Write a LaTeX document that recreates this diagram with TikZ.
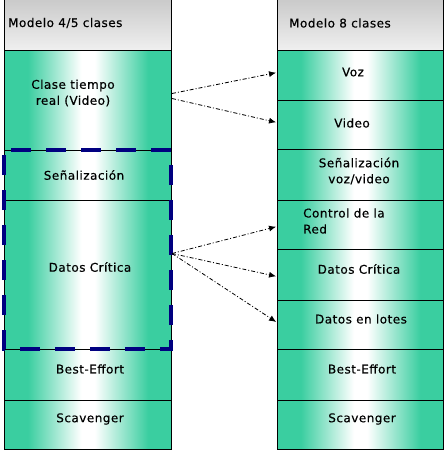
\documentclass[tikz,border=0pt]{standalone}
\usepackage{fontspec}
\setmainfont{DejaVu Sans}[LetterSpace=4, FakeBold=0.4]
\usetikzlibrary{arrows.meta}
\definecolor{verde}{RGB}{58,206,160}
\definecolor{marino}{RGB}{0,0,128}
\pgfdeclarehorizontalshading{franja}{100bp}{color(0bp)=(verde); color(25bp)=(verde);
  color(32bp)=(verde); color(48bp)=(white); color(52bp)=(white); color(68bp)=(verde);
  color(75bp)=(verde); color(100bp)=(verde)}

\begin{document}
\begin{tikzpicture}[x=1pt, y=-1pt,
  every node/.style = {inner sep=0pt, font=\fontsize{12}{16}\selectfont},
  fila/.style = {draw, line width=1pt, anchor=north west, shading=franja},
  cabecera/.style = {draw, line width=1pt, anchor=north west,
    top color=gray!42, bottom color=gray!12},
  grupo/.style = {draw=marino, line width=3.5pt,
    dash pattern=on 20pt off 15pt, dash phase=28pt},
  flecha/.style = {line width=0.8pt, dash pattern=on 4pt off 2pt on 1pt off 2pt,
    -{Latex[length=7pt,width=6pt]}, shorten >=1pt}]
  \useasboundingbox (0,0) rectangle (445,452);

  % modelo 4/5 clases
  \node[cabecera, minimum width=167pt, minimum height=52pt] (l0) at (4,-2) {};
  \node[fila, minimum width=167pt, minimum height=100pt] (l1) at (4,50) {};
  \node[fila, minimum width=167pt, minimum height=50pt] (l2) at (4,150) {};
  \node[fila, minimum width=167pt, minimum height=149pt] (l3) at (4,200) {};
  \node[fila, minimum width=167pt, minimum height=51pt] (l4) at (4,349) {};
  \node[fila, minimum width=167pt, minimum height=49pt] (l5) at (4,400) {};

  % modelo 8 clases
  \node[cabecera, minimum width=166pt, minimum height=52pt] (r0) at (277,-2) {};
  \node[fila, minimum width=166pt, minimum height=50pt] (r1) at (277,50) {};
  \node[fila, minimum width=166pt, minimum height=49pt] (r2) at (277,100) {};
  \node[fila, minimum width=166pt, minimum height=51pt] (r3) at (277,149) {};
  \node[fila, minimum width=166pt, minimum height=49pt] (r4) at (277,200) {};
  \node[fila, minimum width=166pt, minimum height=51pt] (r5) at (277,249) {};
  \node[fila, minimum width=166pt, minimum height=49pt] (r6) at (277,300) {};
  \node[fila, minimum width=166pt, minimum height=51pt] (r7) at (277,349) {};
  \node[fila, minimum width=166pt, minimum height=49pt] (r8) at (277,400) {};

  \draw[grupo] (4,150) -- (171,150) -- (171,349) -- (4,349) -- cycle;

  \node[anchor=west] (tl0) at (8,23) {Modelo 4/5 clases};
  \node[align=center] (tl1) at (73,93) {Clase tiempo\\real (Video)};
  \node (tl2) at (84,175) {Señalización};
  \node (tl3) at (90,267) {Datos Crítica};
  \node (tl4) at (90,369) {Best-Effort};
  \node (tl5) at (90,419) {Scavenger};

  \node[anchor=west] (tr0) at (289,23) {Modelo 8 clases};
  \node (tr1) at (353,72) {Voz};
  \node (tr2) at (352,123) {Video};
  \node[align=center] (tr3) at (359,171) {Señalización\\voz/video};
  \node[align=left, anchor=west] (tr4) at (303,221) {Control de la\\Red};
  \node (tr5) at (359,269) {Datos Crítica};
  \node (tr6) at (361,319) {Datos en lotes};
  \node (tr7) at (362,369) {Best-Effort};
  \node (tr8) at (362,419) {Scavenger};

  \draw[flecha] ([yshift=7pt]l1.east) -- ([yshift=3pt]r1.west);
  \draw[flecha] ([yshift=2pt]l1.east) -- ([yshift=2.5pt]r2.west);
  \draw[flecha] ([yshift=21.5pt]l3.east) -- ([yshift=-1.5pt]r4.west);
  \draw[flecha] ([yshift=21.5pt]l3.east) -- ([yshift=-1.5pt]r5.west);
  \draw[flecha] ([yshift=21.5pt]l3.east) -- ([yshift=2.5pt]r6.west);
\end{tikzpicture}
\end{document}
